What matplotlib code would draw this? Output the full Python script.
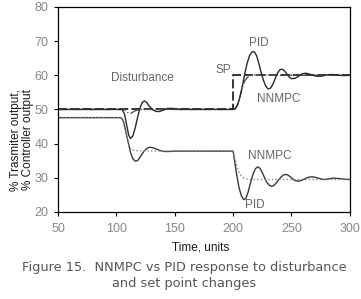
import matplotlib
matplotlib.use("Agg")
import matplotlib.pyplot as plt

# set point
sp_t = [50, 200, 200, 300]
sp_y = [50, 50, 60, 60]

# PID transmitter output
pid_t = [50, 105, 107, 109, 110.5, 112, 114, 116, 118, 120, 122, 124, 126, 128,
         131, 134, 137, 140, 144, 148, 155, 165, 200, 202, 204, 206, 208, 210,
         212, 214, 216, 218, 220, 222, 224, 226, 228, 230, 232, 234, 236, 238,
         240, 242, 244, 246, 248, 250, 253, 256, 259, 262, 265, 268, 272, 275,
         278, 282, 286, 290, 295, 300]
pid_y = [50, 50, 48.5, 45, 42.5, 41.5, 42.2, 44.5, 47.5, 50.3, 52.0, 52.5, 52.0,
         51.0, 49.9, 49.4, 49.4, 49.8, 50.3, 50.3, 50.0, 50.0, 50.0, 50.3, 51.5,
         53.8, 57.0, 60.5, 63.5, 65.7, 66.8, 66.9, 65.8, 63.5, 60.8, 58.5, 56.8,
         56.0, 56.2, 57.3, 59.0, 60.6, 61.6, 61.8, 61.3, 60.4, 59.5, 59.0, 59.1,
         59.7, 60.4, 60.6, 60.4, 60.0, 59.7, 59.7, 59.9, 60.2, 60.2, 60.0, 59.9,
         60.0]

# NNMPC transmitter output
nn_t = [50, 106, 108, 110, 112, 114, 116, 119, 123, 200, 202, 204, 206, 208,
        210, 212, 214, 216, 219, 223, 300]
nn_y = [50, 50, 49.6, 49.0, 48.8, 49.2, 49.6, 49.9, 50.0, 50.0, 50.2, 51.5,
        54.0, 56.6, 58.4, 59.3, 59.8, 60.0, 60.1, 60.0, 60.0]

# PID controller output
pidc_t = [50, 104, 106, 108, 110, 112, 114, 116, 118, 120, 122, 124, 126, 128,
          130, 132, 135, 138, 141, 145, 150, 200, 201, 203, 205, 207, 209, 211,
          213, 215, 217, 219, 221, 223, 225, 227, 229, 231, 233, 235, 237, 239,
          241, 243, 245, 247, 249, 251, 253, 256, 259, 262, 265, 268, 272, 276,
          279, 282, 286, 290, 295, 300]
pidc_y = [47.6, 47.6, 46.5, 43.5, 40.5, 37.5, 35.6, 34.9, 35.0, 35.9, 37.0,
          37.9, 38.6, 38.9, 38.9, 38.7, 38.3, 37.9, 37.7, 37.7, 37.8, 37.8, 35.5,
          31.0, 27.2, 24.8, 23.6, 24.0, 26.0, 28.7, 31.0, 32.6, 33.2, 32.8, 31.5,
          30.0, 28.6, 27.8, 27.5, 27.8, 28.5, 29.4, 30.2, 30.8, 31.0, 30.8, 30.3,
          29.7, 29.2, 29.0, 29.3, 29.8, 30.2, 30.3, 30.0, 29.6, 29.5, 29.7, 29.9,
          29.8, 29.6, 29.5]

# NNMPC controller output
nnc_t = [50, 105, 107, 109, 111, 113, 116, 120, 150, 200, 202, 204, 206, 208,
         210, 213, 216, 220, 300]
nnc_y = [47.6, 47.6, 45.5, 42.0, 39.0, 38.1, 38.0, 37.9, 37.8, 37.8, 35.0,
         32.5, 31.0, 30.2, 29.8, 29.6, 29.5, 29.5, 29.5]

xticks = [50, 100, 150, 200, 250, 300]
yticks = [20, 30, 40, 50, 60, 70, 80]

fig = plt.figure(figsize=(3.61, 2.99), dpi=100)
ax = fig.add_axes([0.161, 0.291, 0.808, 0.686])

ax.plot(pidc_t, pidc_y, color='#3a3a3a', lw=1.0)
ax.plot(nnc_t, nnc_y, color='#888888', lw=1.0, ls=':')
ax.plot(sp_t, sp_y, color='black', lw=1.1, ls=(0, (6, 2)))
ax.plot(nn_t, nn_y, color='#555555', lw=1.0, ls='-.')
ax.plot(pid_t, pid_y, color='#2a2a2a', lw=1.0)

ax.set_xlim(50, 300)
ax.set_ylim(20, 80)
ax.set_xticks(xticks)
ax.set_yticks(yticks)
ax.tick_params(direction='out', length=3, width=0.8, labelsize=9,
               labelcolor='#888888', color='black')
ax.tick_params(axis='x', pad=5)
ax.tick_params(axis='y', pad=4)
for tl in ax.get_xticklabels() + ax.get_yticklabels():
    tl.set_family('Liberation Sans')
for s in ax.spines.values():
    s.set_linewidth(0.9)

txt = dict(fontsize=8.5, color='#666666', family='Liberation Sans')
ax.text(122, 59.2, 'Disturbance', ha='center', va='center', **txt)
ax.text(198.5, 61.5, 'SP', ha='right', va='center', **txt)
ax.text(222, 69.5, 'PID', ha='center', va='center', **txt)
ax.text(239, 53.0, 'NNMPC', ha='center', va='center', **txt)
ax.text(231, 36.5, 'NNMPC', ha='center', va='center', **txt)
ax.text(219, 22.0, 'PID', ha='center', va='center', **txt)

fig.text(0.555, 1 - 247 / 299, 'Time, units', ha='center', va='center',
         fontsize=8.5, color='#1a1a1a', family='Liberation Sans')
fig.text(0.062, 1 - 140 / 299, '% Trasmiter output,\n% Controller output',
         ha='center', va='center', rotation=90, fontsize=8.5,
         color='#1a1a1a', family='Liberation Sans', linespacing=1.0)

fig.text(0.51, 1 - 268 / 299, 'Figure 15.  NNMPC vs PID response to disturbance',
         ha='center', va='center', fontsize=9.3, color='#555555')
fig.text(0.51, 1 - 284 / 299, 'and set point changes', ha='center',
         va='center', fontsize=9.3, color='#555555')

fig.savefig('out.png', dpi=100)
